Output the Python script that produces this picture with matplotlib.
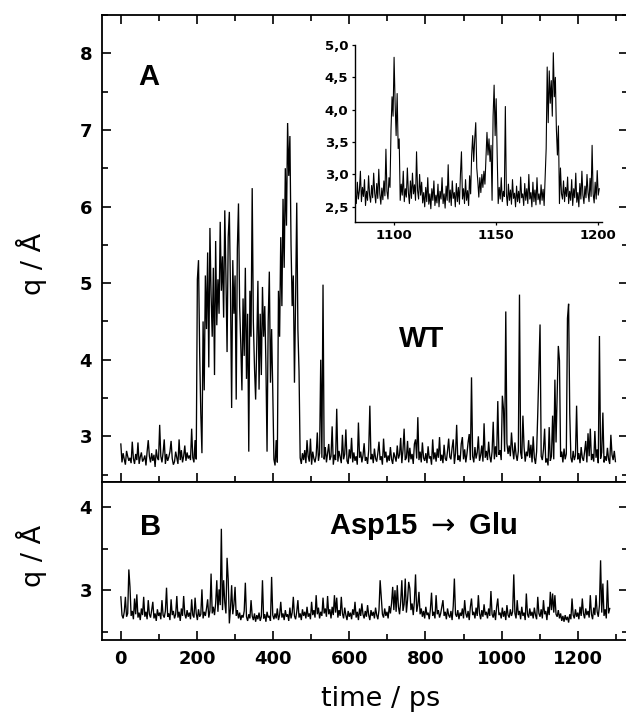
import numpy as np
import matplotlib
matplotlib.use("Agg")
import matplotlib.pyplot as plt
from matplotlib.ticker import MultipleLocator

# ---------------- data ----------------
# q / A for wild type, one value every 3 ps starting at t = 0
q_wt = [
    2.90, 2.66, 2.78, 2.70, 2.63, 2.81, 2.74, 2.68, 2.72, 2.65, 2.93, 2.71, 2.64, 2.77, 2.69, 2.92, 2.64, 2.73, 2.79, 2.67,
    2.70, 2.75, 2.62, 2.80, 2.95, 2.74, 2.66, 2.78, 2.68, 2.76, 2.60, 2.83, 2.72, 2.69, 3.15, 2.74, 2.66, 2.79, 2.96, 2.64,
    2.77, 2.68, 2.73, 2.80, 2.94, 2.71, 2.63, 2.67, 2.80, 2.72, 2.64, 2.96, 2.69, 2.82, 2.66, 2.74, 2.88, 2.68, 2.79, 2.71,
    2.75, 2.69, 3.10, 2.72, 2.66, 2.95, 2.70, 5.05, 5.30, 4.10, 3.30, 2.78, 4.50, 3.60, 5.10, 4.40, 5.40, 3.90, 5.72, 4.85,
    4.30, 5.20, 3.80, 5.55, 4.45, 5.05, 4.60, 5.80, 4.90, 5.35, 4.55, 5.95, 5.10, 4.10, 5.60, 5.93, 4.90, 3.37, 5.30, 4.60,
    5.10, 3.48, 5.45, 6.04, 4.70, 4.20, 3.60, 4.80, 4.05, 5.20, 3.75, 4.60, 2.80, 4.90, 4.30, 6.24, 4.50, 3.90, 3.48, 4.20,
    5.03, 3.61, 4.60, 3.80, 4.95, 4.30, 4.70, 3.95, 2.80, 4.50, 5.15, 3.70, 4.40, 3.60, 2.70, 2.62, 2.95, 2.66, 4.90, 4.30,
    5.60, 4.70, 6.10, 5.20, 6.50, 5.75, 7.09, 6.40, 6.92, 5.50, 4.70, 5.10, 3.70, 4.80, 6.05, 4.40, 3.85, 2.72, 2.64, 2.78,
    2.69, 2.82, 2.65, 2.95, 2.74, 2.67, 2.97, 2.63, 2.80, 2.71, 2.66, 2.75, 3.05, 2.68, 2.78, 4.00, 2.72, 4.98, 2.70, 2.86,
    2.66, 2.78, 2.90, 2.69, 2.74, 3.13, 2.63, 2.76, 2.69, 3.36, 2.67, 2.81, 2.73, 2.65, 3.02, 2.70, 2.77, 3.09, 2.68, 2.64,
    2.83, 2.71, 2.98, 2.66, 2.79, 2.68, 2.74, 2.63, 3.18, 2.72, 2.80, 2.66, 2.75, 2.91, 2.68, 2.73, 2.64, 2.82, 3.40, 2.70,
    2.77, 2.65, 2.84, 2.71, 2.67, 2.78, 2.93, 2.69, 2.74, 2.63, 2.97, 2.72, 2.80, 2.66, 2.75, 2.68, 2.86, 2.70, 2.64, 2.79,
    2.73, 2.67, 2.88, 2.71, 2.76, 2.98, 2.65, 2.82, 3.10, 2.69, 2.72, 2.94, 2.66, 2.85, 2.70, 2.77, 2.64, 2.90, 2.96, 2.71,
    3.25, 2.69, 2.80, 2.66, 2.92, 2.72, 2.68, 2.78, 2.65, 2.87, 2.71, 2.74, 2.63, 2.96, 2.70, 2.79, 2.67, 2.84, 2.72, 2.99,
    2.68, 2.76, 2.65, 2.89, 2.71, 2.68, 2.81, 2.97, 2.73, 2.70, 2.85, 2.96, 2.64, 2.78, 3.15, 2.69, 2.75, 2.67, 2.90, 2.99,
    2.70, 2.83, 2.66, 2.77, 2.92, 3.03, 2.69, 3.77, 2.74, 2.66, 2.86, 2.71, 2.79, 3.00, 2.68, 2.75, 2.88, 2.67, 3.17, 2.72,
    2.81, 2.69, 2.93, 2.74, 2.66, 2.80, 3.19, 2.70, 2.87, 2.73, 3.46, 2.76, 2.82, 2.69, 3.53, 3.36, 2.80, 4.63, 2.91, 2.77,
    2.88, 2.74, 3.05, 2.83, 2.70, 2.92, 2.76, 2.68, 2.81, 4.85, 2.79, 2.71, 3.27, 2.86, 2.67, 2.80, 2.74, 2.95, 2.72, 2.89,
    2.66, 3.00, 2.72, 2.64, 2.80, 3.30, 3.90, 4.46, 2.74, 2.69, 2.83, 3.10, 2.66, 2.71, 2.62, 3.12, 2.68, 2.74, 3.27, 2.70,
    3.74, 2.92, 3.55, 4.18, 3.99, 2.73, 2.80, 2.66, 2.84, 2.70, 2.77, 4.54, 4.73, 3.30, 2.72, 2.66, 2.81, 2.69, 2.75, 3.40,
    2.70, 2.78, 2.65, 2.86, 2.72, 2.68, 2.80, 2.94, 2.66, 3.04, 2.74, 3.10, 2.69, 2.77, 2.67, 3.07, 2.72, 2.83, 2.65, 4.31,
    2.71, 2.79, 3.31, 2.66, 2.74, 2.68, 2.85, 2.70, 2.64, 3.02, 2.76, 2.69, 2.81, 2.67,
]

# q / A for the Asp15 -> Glu mutant, one value every 3 ps starting at t = 0
q_mut = [
    2.92, 2.70, 2.66, 2.74, 2.92, 2.68, 2.72, 3.25, 3.04, 2.69, 2.75, 2.65, 2.90, 2.71, 2.95, 2.67, 2.73, 2.64, 2.78, 2.70,
    2.92, 2.68, 2.74, 2.65, 2.88, 2.71, 2.67, 2.76, 2.86, 2.66, 2.72, 2.63, 2.77, 2.69, 2.73, 2.65, 2.88, 2.70, 2.67, 2.75,
    3.03, 2.68, 2.72, 2.64, 2.89, 2.70, 2.75, 2.66, 2.71, 2.93, 2.67, 2.74, 2.63, 2.78, 2.69, 2.93, 2.71, 2.66, 2.76, 2.68,
    2.73, 2.65, 2.89, 2.70, 2.67, 2.91, 2.72, 2.64, 2.77, 2.68, 2.71, 3.01, 2.66, 2.74, 2.69, 2.78, 2.89, 2.67, 2.75, 3.20,
    2.72, 2.80, 2.70, 2.84, 3.12, 2.74, 3.01, 2.82, 3.74, 2.76, 3.12, 2.85, 2.72, 3.39, 3.13, 2.60, 2.78, 3.06, 2.71, 2.83,
    3.04, 2.69, 2.76, 2.66, 2.73, 2.64, 2.70, 2.67, 2.75, 3.09, 2.68, 2.63, 2.71, 2.66, 2.88, 2.69, 2.64, 2.72, 2.62, 2.70,
    2.65, 2.73, 2.63, 2.68, 3.12, 2.66, 2.71, 2.62, 2.74, 2.67, 2.69, 2.63, 3.16, 2.70, 2.65, 2.72, 2.66, 2.78, 2.64, 2.70,
    2.86, 2.67, 2.72, 2.64, 2.76, 2.68, 2.71, 2.63, 2.79, 2.66, 2.73, 2.92, 2.69, 2.65, 2.74, 2.88, 2.67, 2.72, 2.64, 2.77,
    2.69, 2.74, 2.66, 2.80, 2.68, 2.72, 2.65, 2.86, 2.70, 2.76, 2.67, 2.94, 2.71, 2.79, 2.66, 2.74, 2.69, 2.91, 2.72, 2.78,
    2.68, 2.93, 2.71, 2.77, 2.66, 2.80, 2.70, 2.94, 2.73, 2.91, 2.67, 2.76, 2.69, 2.92, 2.72, 2.66, 2.79, 2.70, 2.64, 2.75,
    2.68, 2.73, 2.65, 2.77, 2.70, 2.86, 2.67, 2.74, 2.64, 2.78, 2.69, 2.84, 2.71, 2.66, 2.75, 2.68, 2.82, 2.70, 2.64, 2.76,
    2.69, 2.74, 2.66, 2.79, 2.70, 2.65, 2.76, 3.12, 2.92, 2.71, 2.67, 2.78, 2.69, 2.74, 2.66, 2.81, 2.72, 2.84, 3.04, 2.76,
    3.00, 2.74, 3.06, 2.80, 2.71, 2.86, 3.12, 2.75, 2.83, 3.14, 2.73, 2.88, 3.10, 3.02, 2.76, 2.84, 2.70, 2.87, 3.19, 2.74,
    2.82, 2.98, 2.71, 2.78, 2.68, 2.75, 2.66, 2.80, 2.70, 2.73, 2.65, 2.77, 2.97, 2.69, 2.74, 2.66, 2.94, 2.71, 2.76, 2.67,
    2.72, 2.80, 2.88, 2.69, 2.74, 2.65, 2.78, 2.70, 2.67, 2.75, 2.64, 2.81, 3.14, 2.71, 2.68, 2.76, 2.65, 2.73, 2.69, 2.78,
    2.66, 2.88, 2.72, 2.67, 2.75, 2.64, 2.80, 2.90, 2.70, 2.74, 2.66, 2.79, 2.69, 2.94, 2.72, 2.65, 2.76, 2.68, 2.83, 2.70,
    2.74, 2.66, 2.78, 2.69, 2.99, 2.71, 2.67, 2.76, 2.64, 2.80, 2.90, 2.70, 2.73, 2.66, 2.79, 2.68, 2.75, 2.64, 2.82, 2.70,
    2.67, 2.77, 2.69, 2.74, 3.19, 2.72, 2.66, 2.88, 2.70, 2.75, 2.65, 2.80, 2.69, 2.73, 2.64, 2.96, 2.71, 2.67, 2.78, 2.69,
    2.74, 2.66, 2.79, 2.70, 2.65, 2.92, 2.72, 2.68, 2.77, 2.66, 2.88, 2.71, 2.75, 2.64, 2.80, 2.70, 2.98, 2.76, 2.96, 2.73,
    2.94, 2.71, 2.68, 2.76, 2.66, 2.72, 2.63, 2.69, 2.62, 2.70, 2.64, 2.68, 2.61, 2.71, 2.65, 2.90, 2.70, 2.66, 2.77, 2.68,
    2.73, 2.65, 2.80, 2.69, 2.90, 2.72, 2.66, 2.78, 2.70, 2.75, 2.67, 2.94, 2.71, 2.65, 2.79, 2.70, 2.94, 2.74, 2.68, 2.82,
    3.36, 2.73, 3.08, 2.69, 2.77, 2.66, 3.12, 2.72, 2.78,
]

# inset: wild type between 1081 and 1200.5 ps, one value every 0.5 ps
q_wt_zoom = [
    2.70, 2.55, 2.88, 2.62, 2.75, 3.05, 2.58, 2.80, 2.66, 2.92, 2.52, 2.74, 2.60, 2.98, 2.68, 2.57, 2.83, 2.64, 3.02, 2.71,
    2.56, 2.86, 2.63, 3.08, 2.70, 2.54, 2.79, 2.61, 2.90, 2.67, 3.39, 2.74, 2.62, 2.95, 2.80, 3.70, 4.20, 3.90, 4.81, 4.10,
    3.60, 4.25, 3.40, 3.55, 2.60, 2.85, 2.68, 3.05, 2.58, 2.78, 2.65, 3.10, 2.72, 2.55, 2.90, 2.63, 3.02, 2.70, 2.84, 2.60,
    3.35, 2.75, 2.62, 3.00, 2.68, 2.88, 2.56, 2.72, 2.50, 2.80, 2.58, 2.95, 2.54, 2.70, 2.47, 2.78, 2.60, 2.90, 2.52, 2.68,
    2.56, 2.85, 2.50, 2.74, 2.62, 2.95, 2.55, 2.70, 2.48, 2.82, 2.60, 3.15, 2.57, 2.76, 2.52, 2.90, 2.63, 2.72, 2.50, 2.86,
    2.58, 2.80, 2.54, 3.00, 3.35, 2.62, 2.78, 2.55, 2.92, 2.60, 2.75, 2.52, 2.98, 2.70, 3.30, 3.60, 3.20, 3.55, 3.80, 3.10,
    2.90, 2.65, 2.95, 2.72, 3.00, 2.80, 3.05, 2.85, 3.25, 3.65, 3.30, 3.55, 3.20, 3.45, 2.60, 3.90, 4.38, 3.60, 4.17, 3.30,
    2.55, 2.80, 2.62, 2.95, 2.58, 2.74, 2.66, 4.05, 2.70, 2.52, 2.85, 2.60, 2.76, 2.54, 2.92, 2.63, 2.71, 2.50, 2.82, 2.58,
    2.74, 2.56, 2.96, 2.64, 2.70, 2.52, 2.86, 2.60, 2.78, 2.55, 3.00, 2.62, 2.72, 2.50, 2.88, 2.58, 2.76, 2.53, 2.95, 2.61,
    2.70, 2.54, 2.84, 2.60, 2.77, 2.52, 2.98, 3.40, 4.66, 3.80, 4.60, 4.10, 4.45, 3.90, 4.88, 4.20, 4.50, 3.70, 3.30, 3.75,
    2.55, 3.10, 2.70, 2.62, 2.90, 2.58, 2.80, 2.66, 2.96, 2.55, 2.74, 2.60, 2.92, 2.52, 2.78, 2.64, 3.02, 2.57, 2.72, 2.50,
    2.86, 2.62, 3.05, 2.68, 2.55, 2.82, 2.64, 3.00, 2.72, 2.58, 2.94, 2.66, 3.45, 2.70, 2.56, 2.88, 2.62, 3.06, 2.68, 2.78,
]

dt_main = 3.0      # ps between samples in the main panels
dt_zoom = 0.5      # ps between samples in the inset
t_zoom_start = 1081.0

xticks_main = [0, 200, 400, 600, 800, 1000, 1200]
yticks_a = [3, 4, 5, 6, 7, 8]
yticks_b = [3, 4]
xticks_inset = [1100, 1150, 1200]
yticks_inset = [2.5, 3.0, 3.5, 4.0, 4.5, 5.0]
ytick_labels_inset = ["2,5", "3,0", "3,5", "4,0", "4,5", "5,0"]

t_wt = np.arange(len(q_wt)) * dt_main
t_mut = np.arange(len(q_mut)) * dt_main
t_zoom = t_zoom_start + np.arange(len(q_wt_zoom)) * dt_zoom

# ---------------- figure ----------------
W, H = 626, 719
fig = plt.figure(figsize=(W / 100, H / 100), dpi=100)

def px(x0, y0, x1, y1):
    # pixel box (left, top, right, bottom) -> figure fraction rect
    return [x0 / W, 1 - y1 / H, (x1 - x0) / W, (y1 - y0) / H]

ax_a = fig.add_axes(px(101.8, 15, 628, 482.3))
ax_b = fig.add_axes(px(101.8, 482.3, 628, 640))
ax_in = fig.add_axes(px(355.3, 45, 601.7, 221.7))

for ax in (ax_a, ax_b):
    ax.set_xlim(-50, 1332)
    ax.xaxis.set_major_locator(plt.FixedLocator(xticks_main))
    ax.xaxis.set_minor_locator(MultipleLocator(100))
    ax.yaxis.set_minor_locator(MultipleLocator(0.5))
    for s in ax.spines.values():
        s.set_linewidth(1.3)
    ax.tick_params(which="both", direction="in", width=1.2,
                   left=True, right=True, bottom=True)
    ax.tick_params(which="major", length=6.5, pad=7)
    ax.tick_params(which="minor", length=4)

ax_a.plot(t_wt, q_wt, color="black", lw=0.95, solid_joinstyle="miter")
ax_a.set_ylim(2.4, 8.5)
ax_a.set_yticks(yticks_a)
ax_a.tick_params(top=True, which="both")
ax_a.tick_params(labelbottom=False)

ax_b.plot(t_mut, q_mut, color="black", lw=0.95, solid_joinstyle="miter")
ax_b.set_ylim(2.4, 4.3)
ax_b.set_yticks(yticks_b)
ax_b.tick_params(top=False, which="both")

for ax in (ax_a, ax_b):
    for lab in ax.get_xticklabels() + ax.get_yticklabels():
        lab.set_family("DejaVu Sans")
        lab.set_fontsize(13)
        lab.set_fontweight("bold")

# inset
ax_in.plot(t_zoom, q_wt_zoom, color="black", lw=0.8)
ax_in.set_xlim(1081, 1201.7)
ax_in.set_ylim(2.27, 5.0)
ax_in.set_xticks(xticks_inset)
ax_in.set_yticks(yticks_inset)
ax_in.set_yticklabels(ytick_labels_inset)
ax_in.spines["top"].set_visible(False)
ax_in.spines["right"].set_visible(False)
for s in ("left", "bottom"):
    ax_in.spines[s].set_linewidth(1.0)
ax_in.tick_params(direction="out", length=2.5, width=0.9, pad=2.5)
for lab in ax_in.get_xticklabels() + ax_in.get_yticklabels():
    lab.set_family("DejaVu Sans")
    lab.set_fontweight("bold")
    lab.set_fontsize(9.5)

# panel annotations
big = dict(family=["Liberation Sans", "DejaVu Sans"], weight="bold", size=21)
ax_a.text(45, 7.59, "A", ha="left", va="baseline", **big)
ax_a.text(790, 4.17, "WT", ha="center", va="baseline", **big)
ax_b.text(50, 3.66, "B", ha="left", va="baseline", **big)
ax_b.text(794, 3.68, r"Asp15 $\rightarrow$ Glu", ha="center", va="baseline",
          family=["Liberation Sans", "DejaVu Sans"], weight="bold", size=21)

# axis titles
lab_font = dict(family="DejaVu Sans", size=19.5)
fig.text(31 / W, 1 - 264 / H, "q / \u00c5", rotation=90, ha="center", va="center", **lab_font)
fig.text(31 / W, 1 - 556 / H, "q / \u00c5", rotation=90, ha="center", va="center", **lab_font)
fig.text(381 / W, 1 - 699 / H, "time / ps", ha="center", va="center", **lab_font)

fig.savefig("out.png", dpi=100)
